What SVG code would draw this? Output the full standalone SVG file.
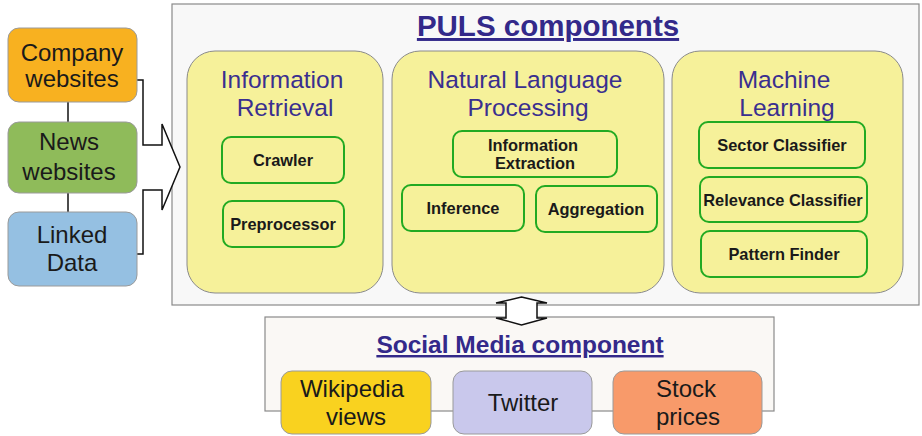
<svg xmlns="http://www.w3.org/2000/svg" width="922" height="436" viewBox="0 0 922 436">
<style>
text{font-family:"Liberation Sans",Arial,sans-serif;text-anchor:middle}
.src{stroke:#9a9a9a;stroke-width:1}
.big{font-size:24px;fill:#1a1a1a}
.sec{fill:#f6f19a;stroke:#8a8a8a;stroke-width:1}
.sect{font-size:24.5px;fill:#3a2f8f}
.inner{fill:#f6f19a;stroke:#22aa22;stroke-width:2}
.it{font-size:16.4px;font-weight:bold;fill:#1a1a1a}
.title{font-weight:bold;fill:#33298a;text-decoration:underline}
.conn{fill:#fff;stroke:#111;stroke-width:1.5;stroke-linejoin:miter}
</style>
<rect width="922" height="436" fill="#fff"/>
<g id="puls">
<rect x="172" y="4" width="747" height="301" fill="#f8f8f8" stroke="#8a8a8a" stroke-width="1.2"/>
<text class="title" x="548" y="36" font-size="29.5">PULS components</text>
</g>
<g id="social">
<rect x="265" y="317" width="509" height="94" fill="#faf8f5" stroke="#8a8a8a" stroke-width="1.2"/>
<text class="title" x="520" y="353" font-size="24.5">Social Media component</text>
</g>
<g id="connectors">
<line x1="68" y1="102" x2="68" y2="122" stroke="#111" stroke-width="1.5"/>
<line x1="68" y1="193" x2="68" y2="212" stroke="#111" stroke-width="1.5"/>
<path class="conn" fill="none" d="M137,80 H143 V145 H162 V124 L180,167 L162,210 V190 H143 V254 H137"/>
<path class="conn" d="M521.5,297 L547,303 H537 V318 H547 L521.5,325 L496,318 H506 V303 H496 Z"/>
</g>
<g id="company">
<rect class="src" x="8" y="28" width="129" height="74" rx="11" fill="#f8b120"/>
<text class="big" x="72" y="61">Company</text>
<text class="big" x="72" y="87">websites</text>
</g>
<g id="news">
<rect class="src" x="8" y="122" width="129" height="71" rx="11" fill="#8fbb5a"/>
<text class="big" x="69" y="150">News</text>
<text class="big" x="69" y="180">websites</text>
</g>
<g id="linked">
<rect class="src" x="8" y="212" width="129" height="74" rx="11" fill="#95c0e2"/>
<text class="big" x="72" y="243">Linked</text>
<text class="big" x="72" y="271">Data</text>
</g>
<g id="ir">
<rect class="sec" x="187" y="51" width="196" height="242" rx="28"/>
<text class="sect" x="282" y="88">Information</text>
<text class="sect" x="285" y="116">Retrieval</text>
</g>
<g id="crawler">
<rect class="inner" x="222" y="137" width="122" height="46" rx="9"/>
<text class="it" x="283" y="166">Crawler</text>
</g>
<g id="preprocessor">
<rect class="inner" x="223" y="201" width="121" height="46" rx="9"/>
<text class="it" x="283" y="230">Preprocessor</text>
</g>
<g id="nlp">
<rect class="sec" x="392" y="51" width="272" height="242" rx="28"/>
<text class="sect" x="525" y="88">Natural Language</text>
<text class="sect" x="528" y="116">Processing</text>
</g>
<g id="ie">
<rect class="inner" x="453" y="131" width="164" height="46" rx="9"/>
<text class="it" x="533" y="151">Information</text>
<text class="it" x="535" y="169">Extraction</text>
</g>
<g id="inference">
<rect class="inner" x="402" y="185" width="122" height="46" rx="9"/>
<text class="it" x="463" y="214">Inference</text>
</g>
<g id="aggregation">
<rect class="inner" x="536" y="186" width="121" height="46" rx="9"/>
<text class="it" x="596" y="215">Aggregation</text>
</g>
<g id="ml">
<rect class="sec" x="672" y="51" width="231" height="242" rx="28"/>
<text class="sect" x="784" y="88">Machine</text>
<text class="sect" x="787" y="116">Learning</text>
</g>
<g id="sector">
<rect class="inner" x="699" y="122" width="166" height="46" rx="9"/>
<text class="it" x="782" y="151">Sector Classifier</text>
</g>
<g id="relevance">
<rect class="inner" x="700" y="177" width="167" height="45" rx="9"/>
<text class="it" x="783" y="206">Relevance Classifier</text>
</g>
<g id="pattern">
<rect class="inner" x="701" y="231" width="166" height="46" rx="9"/>
<text class="it" x="784" y="260">Pattern Finder</text>
</g>
<g id="wikipedia">
<rect class="src" x="281" y="371" width="150" height="63" rx="11" fill="#f9d21f"/>
<text class="big" x="352" y="397">Wikipedia</text>
<text class="big" x="356" y="425">views</text>
</g>
<g id="twitter">
<rect class="src" x="453" y="371" width="139" height="63" rx="11" fill="#c9c8ec"/>
<text class="big" x="523" y="411">Twitter</text>
</g>
<g id="stock">
<rect class="src" x="613" y="371" width="149" height="63" rx="11" fill="#f89a6a"/>
<text class="big" x="686" y="397">Stock</text>
<text class="big" x="688" y="425">prices</text>
</g>
</svg>
